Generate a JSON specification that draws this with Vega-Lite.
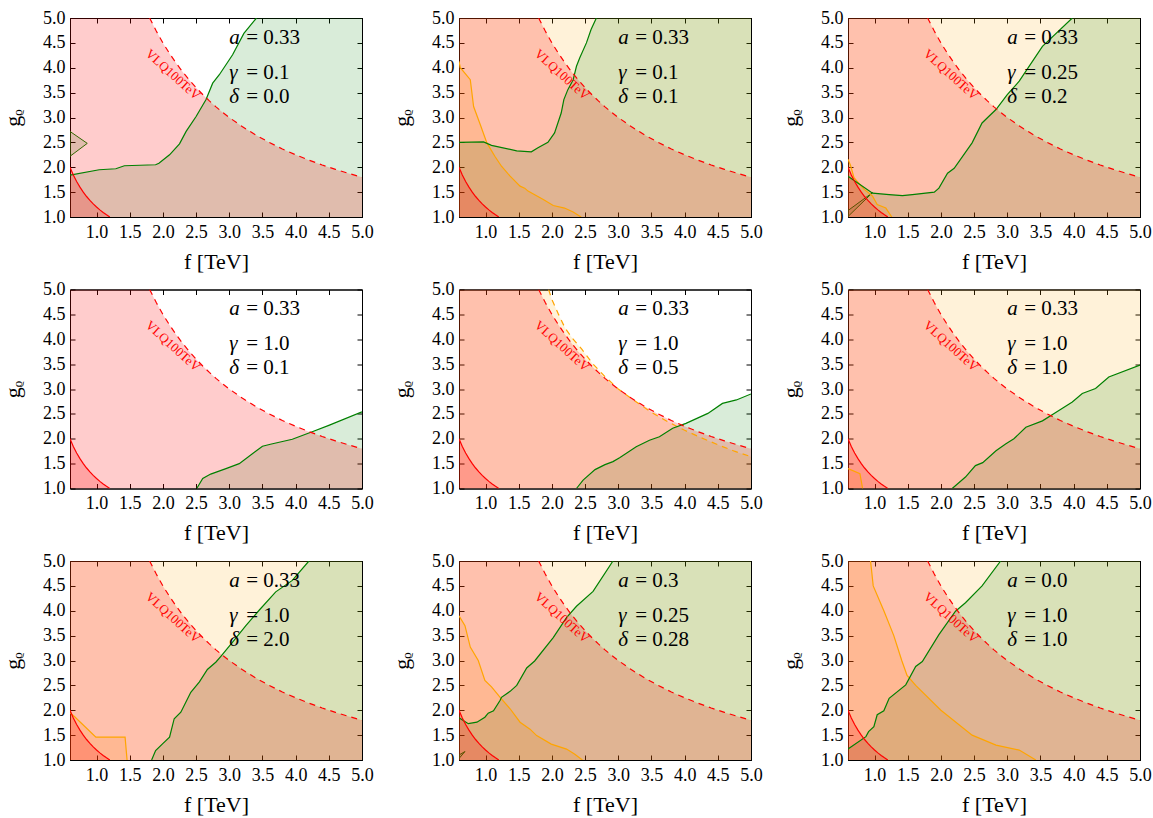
{
"$schema":"https://vega.github.io/schema/vega-lite/v6.json",
"padding":{"left":1,"top":8,"right":5,"bottom":5},
"columns":3,
"bounds":"flush",
"spacing":{"row":72.5,"column":97},
"datasets":{
"full":[{"p":2,"f":0.6,"g":5},{"p":2,"f":5,"g":5},{"p":3,"f":0.6,"g":5},{"p":3,"f":5,"g":5},{"p":6,"f":0.6,"g":5},{"p":6,"f":5,"g":5},{"p":7,"f":0.6,"g":5},{"p":7,"f":5,"g":5},{"p":8,"f":0.6,"g":5},{"p":8,"f":5,"g":5},{"p":9,"f":0.6,"g":5},{"p":9,"f":5,"g":5}],
"lbl":[{"t":"VLQ100TeV","f":2.15,"g":3.86}],
"vlq":[{"f":0.6,"g":5.0,"e":1},{"f":1.8,"g":5.0},{"f":1.9,"g":4.737},{"f":2.0,"g":4.5},{"f":2.1,"g":4.286},{"f":2.2,"g":4.091},{"f":2.3,"g":3.913},{"f":2.4,"g":3.75},{"f":2.5,"g":3.6},{"f":2.6,"g":3.462},{"f":2.7,"g":3.333},{"f":2.8,"g":3.214},{"f":2.9,"g":3.103},{"f":3.0,"g":3.0},{"f":3.2,"g":2.813},{"f":3.4,"g":2.647},{"f":3.6,"g":2.5},{"f":3.8,"g":2.368},{"f":4.0,"g":2.25},{"f":4.2,"g":2.143},{"f":4.4,"g":2.045},{"f":4.6,"g":1.957},{"f":4.8,"g":1.875},{"f":5.0,"g":1.8}],
"sr":[{"f":0.6,"g":2.0},{"f":0.65,"g":1.846},{"f":0.7,"g":1.714},{"f":0.75,"g":1.6},{"f":0.8,"g":1.5},{"f":0.85,"g":1.412},{"f":0.9,"g":1.333},{"f":0.95,"g":1.263},{"f":1.0,"g":1.2},{"f":1.05,"g":1.143},{"f":1.1,"g":1.091},{"f":1.15,"g":1.043},{"f":1.2,"g":1.0}],
"ann":[
{"p":1,"t":"a","v":"= 0.33","f":3,"g":4.6},{"p":1,"t":"γ","v":"= 0.1","f":3,"g":3.9},{"p":1,"t":"δ","v":"= 0.0","f":3,"g":3.42},
{"p":2,"t":"a","v":"= 0.33","f":3,"g":4.6},{"p":2,"t":"γ","v":"= 0.1","f":3,"g":3.9},{"p":2,"t":"δ","v":"= 0.1","f":3,"g":3.42},
{"p":3,"t":"a","v":"= 0.33","f":3,"g":4.6},{"p":3,"t":"γ","v":"= 0.25","f":3,"g":3.9},{"p":3,"t":"δ","v":"= 0.2","f":3,"g":3.42},
{"p":4,"t":"a","v":"= 0.33","f":3,"g":4.6},{"p":4,"t":"γ","v":"= 1.0","f":3,"g":3.9},{"p":4,"t":"δ","v":"= 0.1","f":3,"g":3.42},
{"p":5,"t":"a","v":"= 0.33","f":3,"g":4.6},{"p":5,"t":"γ","v":"= 1.0","f":3,"g":3.9},{"p":5,"t":"δ","v":"= 0.5","f":3,"g":3.42},
{"p":6,"t":"a","v":"= 0.33","f":3,"g":4.6},{"p":6,"t":"γ","v":"= 1.0","f":3,"g":3.9},{"p":6,"t":"δ","v":"= 1.0","f":3,"g":3.42},
{"p":7,"t":"a","v":"= 0.33","f":3,"g":4.6},{"p":7,"t":"γ","v":"= 1.0","f":3,"g":3.9},{"p":7,"t":"δ","v":"= 2.0","f":3,"g":3.42},
{"p":8,"t":"a","v":"= 0.3","f":3,"g":4.6},{"p":8,"t":"γ","v":"= 0.25","f":3,"g":3.9},{"p":8,"t":"δ","v":"= 0.28","f":3,"g":3.42},
{"p":9,"t":"a","v":"= 0.0","f":3,"g":4.6},{"p":9,"t":"γ","v":"= 1.0","f":3,"g":3.9},{"p":9,"t":"δ","v":"= 1.0","f":3,"g":3.42}],
"reg":[
{"p":1,"s":"g","f":0.6,"g":1.84},{"p":1,"s":"g","f":1.04,"g":1.95},{"p":1,"s":"g","f":1.29,"g":1.97},{"p":1,"s":"g","f":1.42,"g":2.03},{"p":1,"s":"g","f":1.89,"g":2.05},{"p":1,"s":"g","f":1.94,"g":2.08},{"p":1,"s":"g","f":2.1,"g":2.25},{"p":1,"s":"g","f":2.25,"g":2.47},{"p":1,"s":"g","f":2.35,"g":2.72},{"p":1,"s":"g","f":2.5,"g":3.02},{"p":1,"s":"g","f":2.65,"g":3.36},{"p":1,"s":"g","f":2.75,"g":3.69},{"p":1,"s":"g","f":2.85,"g":3.86},{"p":1,"s":"g","f":3.05,"g":4.26},{"p":1,"s":"g","f":3.22,"g":4.69},{"p":1,"s":"g","f":3.41,"g":5.0},{"p":1,"s":"gx","f":5.0,"g":5.0},
{"p":1,"s":"w","f":0.6,"g":2.72,"g2":2.22},{"p":1,"s":"w","f":0.86,"g":2.48,"g2":2.48},
{"p":2,"s":"g","f":0.6,"g":2.5},{"p":2,"s":"g","f":0.97,"g":2.51},{"p":2,"s":"g","f":1.09,"g":2.44},{"p":2,"s":"g","f":1.47,"g":2.33},{"p":2,"s":"g","f":1.69,"g":2.31},{"p":2,"s":"g","f":1.79,"g":2.39},{"p":2,"s":"g","f":1.94,"g":2.5},{"p":2,"s":"g","f":2.04,"g":2.69},{"p":2,"s":"g","f":2.14,"g":3.09},{"p":2,"s":"g","f":2.18,"g":3.36},{"p":2,"s":"g","f":2.24,"g":3.56},{"p":2,"s":"g","f":2.32,"g":3.76},{"p":2,"s":"g","f":2.37,"g":4.03},{"p":2,"s":"g","f":2.42,"g":4.2},{"p":2,"s":"g","f":2.52,"g":4.5},{"p":2,"s":"g","f":2.59,"g":4.77},{"p":2,"s":"g","f":2.67,"g":5.0},{"p":2,"s":"gx","f":5.0,"g":5.0},
{"p":2,"s":"o","f":0.6,"g":4.13},{"p":2,"s":"o","f":0.62,"g":4.0},{"p":2,"s":"o","f":0.77,"g":3.76},{"p":2,"s":"o","f":0.82,"g":3.22},{"p":2,"s":"o","f":0.92,"g":2.86},{"p":2,"s":"o","f":1.02,"g":2.49},{"p":2,"s":"o","f":1.14,"g":2.22},{"p":2,"s":"o","f":1.24,"g":2.02},{"p":2,"s":"o","f":1.37,"g":1.82},{"p":2,"s":"o","f":1.52,"g":1.62},{"p":2,"s":"o","f":1.59,"g":1.58},{"p":2,"s":"o","f":1.64,"g":1.52},{"p":2,"s":"o","f":1.87,"g":1.35},{"p":2,"s":"o","f":2.02,"g":1.23},{"p":2,"s":"o","f":2.19,"g":1.18},{"p":2,"s":"o","f":2.32,"g":1.1},{"p":2,"s":"o","f":2.44,"g":1.0},
{"p":3,"s":"g","f":0.6,"g":1.82},{"p":3,"s":"g","f":0.97,"g":1.48},{"p":3,"s":"g","f":1.22,"g":1.45},{"p":3,"s":"g","f":1.42,"g":1.43},{"p":3,"s":"g","f":1.57,"g":1.45},{"p":3,"s":"g","f":1.9,"g":1.5},{"p":3,"s":"g","f":1.97,"g":1.58},{"p":3,"s":"g","f":2.1,"g":1.88},{"p":3,"s":"g","f":2.2,"g":1.98},{"p":3,"s":"g","f":2.47,"g":2.49},{"p":3,"s":"g","f":2.62,"g":2.89},{"p":3,"s":"g","f":2.72,"g":3.02},{"p":3,"s":"g","f":2.83,"g":3.16},{"p":3,"s":"g","f":3.0,"g":3.46},{"p":3,"s":"g","f":3.18,"g":3.73},{"p":3,"s":"g","f":3.53,"g":4.43},{"p":3,"s":"g","f":3.98,"g":5.0},{"p":3,"s":"gx","f":5.0,"g":5.0},
{"p":3,"s":"w","f":0.6,"g":1.13,"g2":1.01},{"p":3,"s":"w","f":0.97,"g":1.49,"g2":1.49},
{"p":3,"s":"o","f":0.6,"g":2.16},{"p":3,"s":"o","f":0.64,"g":2.03},{"p":3,"s":"o","f":0.69,"g":1.79},{"p":3,"s":"o","f":0.84,"g":1.56},{"p":3,"s":"o","f":0.97,"g":1.42},{"p":3,"s":"o","f":1.04,"g":1.25},{"p":3,"s":"o","f":1.17,"g":1.18},{"p":3,"s":"o","f":1.26,"g":1.0},
{"p":4,"s":"g","f":2.51,"g":1.0},{"p":4,"s":"g","f":2.6,"g":1.2},{"p":4,"s":"g","f":2.72,"g":1.29},{"p":4,"s":"g","f":2.95,"g":1.4},{"p":4,"s":"g","f":3.15,"g":1.5},{"p":4,"s":"g","f":3.5,"g":1.85},{"p":4,"s":"g","f":3.62,"g":1.89},{"p":4,"s":"g","f":3.95,"g":1.99},{"p":4,"s":"g","f":4.25,"g":2.14},{"p":4,"s":"g","f":4.5,"g":2.27},{"p":4,"s":"g","f":5.0,"g":2.54},
{"p":5,"s":"g","f":2.37,"g":1.0},{"p":5,"s":"g","f":2.47,"g":1.17},{"p":5,"s":"g","f":2.65,"g":1.38},{"p":5,"s":"g","f":2.8,"g":1.48},{"p":5,"s":"g","f":2.92,"g":1.54},{"p":5,"s":"g","f":3.02,"g":1.62},{"p":5,"s":"g","f":3.27,"g":1.84},{"p":5,"s":"g","f":3.47,"g":1.97},{"p":5,"s":"g","f":3.62,"g":2.04},{"p":5,"s":"g","f":3.82,"g":2.21},{"p":5,"s":"g","f":4.02,"g":2.31},{"p":5,"s":"g","f":4.35,"g":2.51},{"p":5,"s":"g","f":4.57,"g":2.71},{"p":5,"s":"g","f":4.78,"g":2.78},{"p":5,"s":"g","f":5.0,"g":2.9},
{"p":5,"s":"ox","f":0.6,"g":5.0},{"p":5,"s":"od","f":1.95,"g":5.0},{"p":5,"s":"od","f":2.0,"g":4.8},{"p":5,"s":"od","f":2.1,"g":4.5},{"p":5,"s":"od","f":2.2,"g":4.22},{"p":5,"s":"od","f":2.32,"g":4.0},{"p":5,"s":"od","f":2.45,"g":3.8},{"p":5,"s":"od","f":2.62,"g":3.5},{"p":5,"s":"od","f":2.8,"g":3.25},{"p":5,"s":"od","f":3.0,"g":3.0},{"p":5,"s":"od","f":3.25,"g":2.76},{"p":5,"s":"od","f":3.5,"g":2.53},{"p":5,"s":"od","f":3.75,"g":2.34},{"p":5,"s":"od","f":4.0,"g":2.17},{"p":5,"s":"od","f":4.25,"g":2.02},{"p":5,"s":"od","f":4.5,"g":1.88},{"p":5,"s":"od","f":4.75,"g":1.75},{"p":5,"s":"od","f":5.0,"g":1.64},
{"p":6,"s":"g","f":2.17,"g":1.0},{"p":6,"s":"g","f":2.37,"g":1.23},{"p":6,"s":"g","f":2.52,"g":1.46},{"p":6,"s":"g","f":2.63,"g":1.52},{"p":6,"s":"g","f":2.83,"g":1.76},{"p":6,"s":"g","f":2.98,"g":1.9},{"p":6,"s":"g","f":3.1,"g":2.0},{"p":6,"s":"g","f":3.28,"g":2.23},{"p":6,"s":"g","f":3.53,"g":2.36},{"p":6,"s":"g","f":3.73,"g":2.53},{"p":6,"s":"g","f":3.98,"g":2.74},{"p":6,"s":"g","f":4.13,"g":2.91},{"p":6,"s":"g","f":4.33,"g":3.01},{"p":6,"s":"g","f":4.53,"g":3.24},{"p":6,"s":"g","f":5.0,"g":3.48},
{"p":6,"s":"o","f":0.6,"g":1.4},{"p":6,"s":"o","f":0.78,"g":1.3},{"p":6,"s":"o","f":0.82,"g":1.0},
{"p":7,"s":"g","f":1.83,"g":1.0},{"p":7,"s":"g","f":1.89,"g":1.19},{"p":7,"s":"g","f":1.99,"g":1.32},{"p":7,"s":"g","f":2.1,"g":1.46},{"p":7,"s":"g","f":2.17,"g":1.83},{"p":7,"s":"g","f":2.27,"g":1.96},{"p":7,"s":"g","f":2.42,"g":2.36},{"p":7,"s":"g","f":2.55,"g":2.57},{"p":7,"s":"g","f":2.67,"g":2.82},{"p":7,"s":"g","f":2.8,"g":2.97},{"p":7,"s":"g","f":2.87,"g":3.08},{"p":7,"s":"g","f":3.05,"g":3.37},{"p":7,"s":"g","f":3.25,"g":3.7},{"p":7,"s":"g","f":3.45,"g":4.01},{"p":7,"s":"g","f":3.7,"g":4.38},{"p":7,"s":"g","f":3.95,"g":4.61},{"p":7,"s":"g","f":4.2,"g":5.0},{"p":7,"s":"gx","f":5.0,"g":5.0},
{"p":7,"s":"o","f":0.6,"g":1.95},{"p":7,"s":"o","f":0.67,"g":1.87},{"p":7,"s":"o","f":0.99,"g":1.46},{"p":7,"s":"o","f":1.43,"g":1.46},{"p":7,"s":"o","f":1.46,"g":1.0},
{"p":8,"s":"g","f":0.6,"g":1.85},{"p":8,"s":"g","f":0.74,"g":1.73},{"p":8,"s":"g","f":0.87,"g":1.76},{"p":8,"s":"g","f":0.99,"g":1.86},{"p":8,"s":"g","f":1.04,"g":1.94},{"p":8,"s":"g","f":1.12,"g":1.99},{"p":8,"s":"g","f":1.22,"g":2.2},{"p":8,"s":"g","f":1.24,"g":2.26},{"p":8,"s":"g","f":1.37,"g":2.38},{"p":8,"s":"g","f":1.47,"g":2.5},{"p":8,"s":"g","f":1.62,"g":2.85},{"p":8,"s":"g","f":1.74,"g":2.99},{"p":8,"s":"g","f":2.02,"g":3.46},{"p":8,"s":"g","f":2.22,"g":3.86},{"p":8,"s":"g","f":2.37,"g":4.09},{"p":8,"s":"g","f":2.62,"g":4.39},{"p":8,"s":"g","f":2.92,"g":5.0},{"p":8,"s":"gx","f":5.0,"g":5.0},
{"p":8,"s":"w","f":0.6,"g":1.1,"g2":1.03},{"p":8,"s":"w","f":0.69,"g":1.17,"g2":1.17},
{"p":8,"s":"o","f":0.6,"g":3.9},{"p":8,"s":"o","f":0.69,"g":3.7},{"p":8,"s":"o","f":0.77,"g":3.27},{"p":8,"s":"o","f":0.89,"g":3.0},{"p":8,"s":"o","f":0.99,"g":2.6},{"p":8,"s":"o","f":1.09,"g":2.47},{"p":8,"s":"o","f":1.22,"g":2.26},{"p":8,"s":"o","f":1.37,"g":2.03},{"p":8,"s":"o","f":1.52,"g":1.76},{"p":8,"s":"o","f":1.67,"g":1.62},{"p":8,"s":"o","f":1.77,"g":1.49},{"p":8,"s":"o","f":1.99,"g":1.32},{"p":8,"s":"o","f":2.22,"g":1.22},{"p":8,"s":"o","f":2.34,"g":1.12},{"p":8,"s":"o","f":2.46,"g":1.0},
{"p":9,"s":"g","f":0.6,"g":1.22},{"p":9,"s":"g","f":0.87,"g":1.47},{"p":9,"s":"g","f":0.91,"g":1.57},{"p":9,"s":"g","f":0.99,"g":1.67},{"p":9,"s":"g","f":1.04,"g":1.91},{"p":9,"s":"g","f":1.14,"g":1.99},{"p":9,"s":"g","f":1.22,"g":2.24},{"p":9,"s":"g","f":1.47,"g":2.51},{"p":9,"s":"g","f":1.62,"g":2.88},{"p":9,"s":"g","f":1.72,"g":2.98},{"p":9,"s":"g","f":1.97,"g":3.52},{"p":9,"s":"g","f":2.22,"g":3.99},{"p":9,"s":"g","f":2.37,"g":4.16},{"p":9,"s":"g","f":2.62,"g":4.5},{"p":9,"s":"g","f":2.9,"g":5.0},{"p":9,"s":"gx","f":5.0,"g":5.0},
{"p":9,"s":"ox","f":0.6,"g":5.0},{"p":9,"s":"o","f":0.94,"g":5.0},{"p":9,"s":"o","f":0.98,"g":4.5},{"p":9,"s":"o","f":1.14,"g":4.0},{"p":9,"s":"o","f":1.29,"g":3.5},{"p":9,"s":"o","f":1.41,"g":3.0},{"p":9,"s":"o","f":1.49,"g":2.7},{"p":9,"s":"o","f":1.62,"g":2.5},{"p":9,"s":"o","f":2.0,"g":2.0},{"p":9,"s":"o","f":2.47,"g":1.5},{"p":9,"s":"o","f":2.83,"g":1.3},{"p":9,"s":"o","f":3.18,"g":1.2},{"p":9,"s":"o","f":3.43,"g":1.0}
]},
"concat":[
{"width":292,"height":199,"encoding":{"x":{"field":"f","type":"quantitative","scale":{"domain":[0.6,5],"nice":false,"zero":false},"axis":null},"y":{"field":"g","type":"quantitative","scale":{"domain":[1,5],"nice":false,"zero":false},"axis":null}},"resolve":{"axis":{"x":"independent","y":"independent"}},"layer":[
{"data":{"name":"full"},"transform":[{"filter":"datum.p==1"}],"mark":{"type":"area","fill":"orange","fillOpacity":0.15},"encoding":{"y2":{"datum":1}}},
{"data":{"name":"reg"},"transform":[{"filter":"datum.p==1 && (datum.s=='o'||datum.s=='od'||datum.s=='ox')"}],"mark":{"type":"area","fill":"orange","fillOpacity":0.15,"clip":true},"encoding":{"y2":{"datum":1}}},
{"data":{"name":"reg"},"transform":[{"filter":"datum.p==1 && (datum.s=='g'||datum.s=='gx')"}],"mark":{"type":"area","fill":"green","fillOpacity":0.15,"clip":true},"encoding":{"y2":{"datum":1}}},
{"data":{"name":"reg"},"transform":[{"filter":"datum.p==1 && datum.s=='w'"}],"mark":{"type":"area","fill":"green","fillOpacity":0.15,"stroke":"green","strokeWidth":1,"clip":true},"encoding":{"y2":{"field":"g2"}}},
{"data":{"name":"vlq"},"mark":{"type":"area","fill":"red","fillOpacity":0.2,"clip":true},"encoding":{"x":{"field":"f","type":"quantitative","scale":{"domain":[0.6,5],"nice":false,"zero":false},"axis":{"orient":"bottom","values":[1,1.5,2,2.5,3,3.5,4,4.5,5],"format":".1f","title":"f [TeV]"}},"y":{"field":"g","type":"quantitative","scale":{"domain":[1,5],"nice":false,"zero":false},"axis":{"orient":"left","values":[1,1.5,2,2.5,3,3.5,4,4.5,5],"format":".1f","title":"gᵨ"}},"y2":{"datum":1}}},
{"data":{"name":"sr"},"mark":{"type":"area","fill":"red","fillOpacity":0.2,"clip":true},"encoding":{"y2":{"datum":1}}},
{"data":{"name":"reg"},"transform":[{"filter":"datum.p==1 && datum.s=='o'"}],"mark":{"type":"line","stroke":"orange","strokeWidth":1.2,"clip":true},"encoding":{}},
{"data":{"name":"reg"},"transform":[{"filter":"datum.p==1 && datum.s=='od'"}],"mark":{"type":"line","stroke":"orange","strokeWidth":1.2,"strokeDash":[6,5],"clip":true},"encoding":{}},
{"data":{"name":"reg"},"transform":[{"filter":"datum.p==1 && datum.s=='g'"}],"mark":{"type":"line","stroke":"green","strokeWidth":1.2,"clip":true},"encoding":{}},
{"data":{"name":"sr"},"mark":{"type":"line","stroke":"red","strokeWidth":1.2,"clip":true},"encoding":{}},
{"data":{"name":"vlq"},"transform":[{"filter":"!datum.e"}],"mark":{"type":"line","stroke":"red","strokeWidth":1.2,"strokeDash":[6,5],"clip":true},"encoding":{"x":{"field":"f","type":"quantitative","scale":{"domain":[0.6,5],"nice":false,"zero":false},"axis":{"orient":"top","values":[1,1.5,2,2.5,3,3.5,4,4.5,5],"labels":false,"title":null}},"y":{"field":"g","type":"quantitative","scale":{"domain":[1,5],"nice":false,"zero":false},"axis":{"orient":"right","values":[1,1.5,2,2.5,3,3.5,4,4.5,5],"labels":false,"title":null}}}},
{"data":{"name":"lbl"},"mark":{"type":"text","fill":"red","font":"Liberation Serif","fontSize":13,"angle":42,"align":"center","baseline":"middle"},"encoding":{"text":{"field":"t"}}},
{"data":{"name":"ann"},"transform":[{"filter":"datum.p==1"}],"mark":{"type":"text","font":"Liberation Serif","fontSize":21,"fontStyle":"italic","align":"left","baseline":"middle","fill":"black"},"encoding":{"text":{"field":"t"}}},
{"data":{"name":"ann"},"transform":[{"filter":"datum.p==1"}],"mark":{"type":"text","font":"Liberation Serif","fontSize":21,"align":"left","baseline":"middle","fill":"black","dx":17},"encoding":{"text":{"field":"v"}}}
]},
{"width":292,"height":199,"encoding":{"x":{"field":"f","type":"quantitative","scale":{"domain":[0.6,5],"nice":false,"zero":false},"axis":null},"y":{"field":"g","type":"quantitative","scale":{"domain":[1,5],"nice":false,"zero":false},"axis":null}},"resolve":{"axis":{"x":"independent","y":"independent"}},"layer":[
{"data":{"name":"full"},"transform":[{"filter":"datum.p==2"}],"mark":{"type":"area","fill":"orange","fillOpacity":0.15},"encoding":{"y2":{"datum":1}}},
{"data":{"name":"reg"},"transform":[{"filter":"datum.p==2 && (datum.s=='o'||datum.s=='od'||datum.s=='ox')"}],"mark":{"type":"area","fill":"orange","fillOpacity":0.15,"clip":true},"encoding":{"y2":{"datum":1}}},
{"data":{"name":"reg"},"transform":[{"filter":"datum.p==2 && (datum.s=='g'||datum.s=='gx')"}],"mark":{"type":"area","fill":"green","fillOpacity":0.15,"clip":true},"encoding":{"y2":{"datum":1}}},
{"data":{"name":"reg"},"transform":[{"filter":"datum.p==2 && datum.s=='w'"}],"mark":{"type":"area","fill":"green","fillOpacity":0.15,"stroke":"green","strokeWidth":1,"clip":true},"encoding":{"y2":{"field":"g2"}}},
{"data":{"name":"vlq"},"mark":{"type":"area","fill":"red","fillOpacity":0.2,"clip":true},"encoding":{"x":{"field":"f","type":"quantitative","scale":{"domain":[0.6,5],"nice":false,"zero":false},"axis":{"orient":"bottom","values":[1,1.5,2,2.5,3,3.5,4,4.5,5],"format":".1f","title":"f [TeV]"}},"y":{"field":"g","type":"quantitative","scale":{"domain":[1,5],"nice":false,"zero":false},"axis":{"orient":"left","values":[1,1.5,2,2.5,3,3.5,4,4.5,5],"format":".1f","title":"gᵨ"}},"y2":{"datum":1}}},
{"data":{"name":"sr"},"mark":{"type":"area","fill":"red","fillOpacity":0.2,"clip":true},"encoding":{"y2":{"datum":1}}},
{"data":{"name":"reg"},"transform":[{"filter":"datum.p==2 && datum.s=='o'"}],"mark":{"type":"line","stroke":"orange","strokeWidth":1.2,"clip":true},"encoding":{}},
{"data":{"name":"reg"},"transform":[{"filter":"datum.p==2 && datum.s=='od'"}],"mark":{"type":"line","stroke":"orange","strokeWidth":1.2,"strokeDash":[6,5],"clip":true},"encoding":{}},
{"data":{"name":"reg"},"transform":[{"filter":"datum.p==2 && datum.s=='g'"}],"mark":{"type":"line","stroke":"green","strokeWidth":1.2,"clip":true},"encoding":{}},
{"data":{"name":"sr"},"mark":{"type":"line","stroke":"red","strokeWidth":1.2,"clip":true},"encoding":{}},
{"data":{"name":"vlq"},"transform":[{"filter":"!datum.e"}],"mark":{"type":"line","stroke":"red","strokeWidth":1.2,"strokeDash":[6,5],"clip":true},"encoding":{"x":{"field":"f","type":"quantitative","scale":{"domain":[0.6,5],"nice":false,"zero":false},"axis":{"orient":"top","values":[1,1.5,2,2.5,3,3.5,4,4.5,5],"labels":false,"title":null}},"y":{"field":"g","type":"quantitative","scale":{"domain":[1,5],"nice":false,"zero":false},"axis":{"orient":"right","values":[1,1.5,2,2.5,3,3.5,4,4.5,5],"labels":false,"title":null}}}},
{"data":{"name":"lbl"},"mark":{"type":"text","fill":"red","font":"Liberation Serif","fontSize":13,"angle":42,"align":"center","baseline":"middle"},"encoding":{"text":{"field":"t"}}},
{"data":{"name":"ann"},"transform":[{"filter":"datum.p==2"}],"mark":{"type":"text","font":"Liberation Serif","fontSize":21,"fontStyle":"italic","align":"left","baseline":"middle","fill":"black"},"encoding":{"text":{"field":"t"}}},
{"data":{"name":"ann"},"transform":[{"filter":"datum.p==2"}],"mark":{"type":"text","font":"Liberation Serif","fontSize":21,"align":"left","baseline":"middle","fill":"black","dx":17},"encoding":{"text":{"field":"v"}}}
]},
{"width":292,"height":199,"encoding":{"x":{"field":"f","type":"quantitative","scale":{"domain":[0.6,5],"nice":false,"zero":false},"axis":null},"y":{"field":"g","type":"quantitative","scale":{"domain":[1,5],"nice":false,"zero":false},"axis":null}},"resolve":{"axis":{"x":"independent","y":"independent"}},"layer":[
{"data":{"name":"full"},"transform":[{"filter":"datum.p==3"}],"mark":{"type":"area","fill":"orange","fillOpacity":0.15},"encoding":{"y2":{"datum":1}}},
{"data":{"name":"reg"},"transform":[{"filter":"datum.p==3 && (datum.s=='o'||datum.s=='od'||datum.s=='ox')"}],"mark":{"type":"area","fill":"orange","fillOpacity":0.15,"clip":true},"encoding":{"y2":{"datum":1}}},
{"data":{"name":"reg"},"transform":[{"filter":"datum.p==3 && (datum.s=='g'||datum.s=='gx')"}],"mark":{"type":"area","fill":"green","fillOpacity":0.15,"clip":true},"encoding":{"y2":{"datum":1}}},
{"data":{"name":"reg"},"transform":[{"filter":"datum.p==3 && datum.s=='w'"}],"mark":{"type":"area","fill":"green","fillOpacity":0.15,"stroke":"green","strokeWidth":1,"clip":true},"encoding":{"y2":{"field":"g2"}}},
{"data":{"name":"vlq"},"mark":{"type":"area","fill":"red","fillOpacity":0.2,"clip":true},"encoding":{"x":{"field":"f","type":"quantitative","scale":{"domain":[0.6,5],"nice":false,"zero":false},"axis":{"orient":"bottom","values":[1,1.5,2,2.5,3,3.5,4,4.5,5],"format":".1f","title":"f [TeV]"}},"y":{"field":"g","type":"quantitative","scale":{"domain":[1,5],"nice":false,"zero":false},"axis":{"orient":"left","values":[1,1.5,2,2.5,3,3.5,4,4.5,5],"format":".1f","title":"gᵨ"}},"y2":{"datum":1}}},
{"data":{"name":"sr"},"mark":{"type":"area","fill":"red","fillOpacity":0.2,"clip":true},"encoding":{"y2":{"datum":1}}},
{"data":{"name":"reg"},"transform":[{"filter":"datum.p==3 && datum.s=='o'"}],"mark":{"type":"line","stroke":"orange","strokeWidth":1.2,"clip":true},"encoding":{}},
{"data":{"name":"reg"},"transform":[{"filter":"datum.p==3 && datum.s=='od'"}],"mark":{"type":"line","stroke":"orange","strokeWidth":1.2,"strokeDash":[6,5],"clip":true},"encoding":{}},
{"data":{"name":"reg"},"transform":[{"filter":"datum.p==3 && datum.s=='g'"}],"mark":{"type":"line","stroke":"green","strokeWidth":1.2,"clip":true},"encoding":{}},
{"data":{"name":"sr"},"mark":{"type":"line","stroke":"red","strokeWidth":1.2,"clip":true},"encoding":{}},
{"data":{"name":"vlq"},"transform":[{"filter":"!datum.e"}],"mark":{"type":"line","stroke":"red","strokeWidth":1.2,"strokeDash":[6,5],"clip":true},"encoding":{"x":{"field":"f","type":"quantitative","scale":{"domain":[0.6,5],"nice":false,"zero":false},"axis":{"orient":"top","values":[1,1.5,2,2.5,3,3.5,4,4.5,5],"labels":false,"title":null}},"y":{"field":"g","type":"quantitative","scale":{"domain":[1,5],"nice":false,"zero":false},"axis":{"orient":"right","values":[1,1.5,2,2.5,3,3.5,4,4.5,5],"labels":false,"title":null}}}},
{"data":{"name":"lbl"},"mark":{"type":"text","fill":"red","font":"Liberation Serif","fontSize":13,"angle":42,"align":"center","baseline":"middle"},"encoding":{"text":{"field":"t"}}},
{"data":{"name":"ann"},"transform":[{"filter":"datum.p==3"}],"mark":{"type":"text","font":"Liberation Serif","fontSize":21,"fontStyle":"italic","align":"left","baseline":"middle","fill":"black"},"encoding":{"text":{"field":"t"}}},
{"data":{"name":"ann"},"transform":[{"filter":"datum.p==3"}],"mark":{"type":"text","font":"Liberation Serif","fontSize":21,"align":"left","baseline":"middle","fill":"black","dx":17},"encoding":{"text":{"field":"v"}}}
]},
{"width":292,"height":199,"encoding":{"x":{"field":"f","type":"quantitative","scale":{"domain":[0.6,5],"nice":false,"zero":false},"axis":null},"y":{"field":"g","type":"quantitative","scale":{"domain":[1,5],"nice":false,"zero":false},"axis":null}},"resolve":{"axis":{"x":"independent","y":"independent"}},"layer":[
{"data":{"name":"full"},"transform":[{"filter":"datum.p==4"}],"mark":{"type":"area","fill":"orange","fillOpacity":0.15},"encoding":{"y2":{"datum":1}}},
{"data":{"name":"reg"},"transform":[{"filter":"datum.p==4 && (datum.s=='o'||datum.s=='od'||datum.s=='ox')"}],"mark":{"type":"area","fill":"orange","fillOpacity":0.15,"clip":true},"encoding":{"y2":{"datum":1}}},
{"data":{"name":"reg"},"transform":[{"filter":"datum.p==4 && (datum.s=='g'||datum.s=='gx')"}],"mark":{"type":"area","fill":"green","fillOpacity":0.15,"clip":true},"encoding":{"y2":{"datum":1}}},
{"data":{"name":"reg"},"transform":[{"filter":"datum.p==4 && datum.s=='w'"}],"mark":{"type":"area","fill":"green","fillOpacity":0.15,"stroke":"green","strokeWidth":1,"clip":true},"encoding":{"y2":{"field":"g2"}}},
{"data":{"name":"vlq"},"mark":{"type":"area","fill":"red","fillOpacity":0.2,"clip":true},"encoding":{"x":{"field":"f","type":"quantitative","scale":{"domain":[0.6,5],"nice":false,"zero":false},"axis":{"orient":"bottom","values":[1,1.5,2,2.5,3,3.5,4,4.5,5],"format":".1f","title":"f [TeV]"}},"y":{"field":"g","type":"quantitative","scale":{"domain":[1,5],"nice":false,"zero":false},"axis":{"orient":"left","values":[1,1.5,2,2.5,3,3.5,4,4.5,5],"format":".1f","title":"gᵨ"}},"y2":{"datum":1}}},
{"data":{"name":"sr"},"mark":{"type":"area","fill":"red","fillOpacity":0.2,"clip":true},"encoding":{"y2":{"datum":1}}},
{"data":{"name":"reg"},"transform":[{"filter":"datum.p==4 && datum.s=='o'"}],"mark":{"type":"line","stroke":"orange","strokeWidth":1.2,"clip":true},"encoding":{}},
{"data":{"name":"reg"},"transform":[{"filter":"datum.p==4 && datum.s=='od'"}],"mark":{"type":"line","stroke":"orange","strokeWidth":1.2,"strokeDash":[6,5],"clip":true},"encoding":{}},
{"data":{"name":"reg"},"transform":[{"filter":"datum.p==4 && datum.s=='g'"}],"mark":{"type":"line","stroke":"green","strokeWidth":1.2,"clip":true},"encoding":{}},
{"data":{"name":"sr"},"mark":{"type":"line","stroke":"red","strokeWidth":1.2,"clip":true},"encoding":{}},
{"data":{"name":"vlq"},"transform":[{"filter":"!datum.e"}],"mark":{"type":"line","stroke":"red","strokeWidth":1.2,"strokeDash":[6,5],"clip":true},"encoding":{"x":{"field":"f","type":"quantitative","scale":{"domain":[0.6,5],"nice":false,"zero":false},"axis":{"orient":"top","values":[1,1.5,2,2.5,3,3.5,4,4.5,5],"labels":false,"title":null}},"y":{"field":"g","type":"quantitative","scale":{"domain":[1,5],"nice":false,"zero":false},"axis":{"orient":"right","values":[1,1.5,2,2.5,3,3.5,4,4.5,5],"labels":false,"title":null}}}},
{"data":{"name":"lbl"},"mark":{"type":"text","fill":"red","font":"Liberation Serif","fontSize":13,"angle":42,"align":"center","baseline":"middle"},"encoding":{"text":{"field":"t"}}},
{"data":{"name":"ann"},"transform":[{"filter":"datum.p==4"}],"mark":{"type":"text","font":"Liberation Serif","fontSize":21,"fontStyle":"italic","align":"left","baseline":"middle","fill":"black"},"encoding":{"text":{"field":"t"}}},
{"data":{"name":"ann"},"transform":[{"filter":"datum.p==4"}],"mark":{"type":"text","font":"Liberation Serif","fontSize":21,"align":"left","baseline":"middle","fill":"black","dx":17},"encoding":{"text":{"field":"v"}}}
]},
{"width":292,"height":199,"encoding":{"x":{"field":"f","type":"quantitative","scale":{"domain":[0.6,5],"nice":false,"zero":false},"axis":null},"y":{"field":"g","type":"quantitative","scale":{"domain":[1,5],"nice":false,"zero":false},"axis":null}},"resolve":{"axis":{"x":"independent","y":"independent"}},"layer":[
{"data":{"name":"full"},"transform":[{"filter":"datum.p==5"}],"mark":{"type":"area","fill":"orange","fillOpacity":0.15},"encoding":{"y2":{"datum":1}}},
{"data":{"name":"reg"},"transform":[{"filter":"datum.p==5 && (datum.s=='o'||datum.s=='od'||datum.s=='ox')"}],"mark":{"type":"area","fill":"orange","fillOpacity":0.15,"clip":true},"encoding":{"y2":{"datum":1}}},
{"data":{"name":"reg"},"transform":[{"filter":"datum.p==5 && (datum.s=='g'||datum.s=='gx')"}],"mark":{"type":"area","fill":"green","fillOpacity":0.15,"clip":true},"encoding":{"y2":{"datum":1}}},
{"data":{"name":"reg"},"transform":[{"filter":"datum.p==5 && datum.s=='w'"}],"mark":{"type":"area","fill":"green","fillOpacity":0.15,"stroke":"green","strokeWidth":1,"clip":true},"encoding":{"y2":{"field":"g2"}}},
{"data":{"name":"vlq"},"mark":{"type":"area","fill":"red","fillOpacity":0.2,"clip":true},"encoding":{"x":{"field":"f","type":"quantitative","scale":{"domain":[0.6,5],"nice":false,"zero":false},"axis":{"orient":"bottom","values":[1,1.5,2,2.5,3,3.5,4,4.5,5],"format":".1f","title":"f [TeV]"}},"y":{"field":"g","type":"quantitative","scale":{"domain":[1,5],"nice":false,"zero":false},"axis":{"orient":"left","values":[1,1.5,2,2.5,3,3.5,4,4.5,5],"format":".1f","title":"gᵨ"}},"y2":{"datum":1}}},
{"data":{"name":"sr"},"mark":{"type":"area","fill":"red","fillOpacity":0.2,"clip":true},"encoding":{"y2":{"datum":1}}},
{"data":{"name":"reg"},"transform":[{"filter":"datum.p==5 && datum.s=='o'"}],"mark":{"type":"line","stroke":"orange","strokeWidth":1.2,"clip":true},"encoding":{}},
{"data":{"name":"reg"},"transform":[{"filter":"datum.p==5 && datum.s=='od'"}],"mark":{"type":"line","stroke":"orange","strokeWidth":1.2,"strokeDash":[6,5],"clip":true},"encoding":{}},
{"data":{"name":"reg"},"transform":[{"filter":"datum.p==5 && datum.s=='g'"}],"mark":{"type":"line","stroke":"green","strokeWidth":1.2,"clip":true},"encoding":{}},
{"data":{"name":"sr"},"mark":{"type":"line","stroke":"red","strokeWidth":1.2,"clip":true},"encoding":{}},
{"data":{"name":"vlq"},"transform":[{"filter":"!datum.e"}],"mark":{"type":"line","stroke":"red","strokeWidth":1.2,"strokeDash":[6,5],"clip":true},"encoding":{"x":{"field":"f","type":"quantitative","scale":{"domain":[0.6,5],"nice":false,"zero":false},"axis":{"orient":"top","values":[1,1.5,2,2.5,3,3.5,4,4.5,5],"labels":false,"title":null}},"y":{"field":"g","type":"quantitative","scale":{"domain":[1,5],"nice":false,"zero":false},"axis":{"orient":"right","values":[1,1.5,2,2.5,3,3.5,4,4.5,5],"labels":false,"title":null}}}},
{"data":{"name":"lbl"},"mark":{"type":"text","fill":"red","font":"Liberation Serif","fontSize":13,"angle":42,"align":"center","baseline":"middle"},"encoding":{"text":{"field":"t"}}},
{"data":{"name":"ann"},"transform":[{"filter":"datum.p==5"}],"mark":{"type":"text","font":"Liberation Serif","fontSize":21,"fontStyle":"italic","align":"left","baseline":"middle","fill":"black"},"encoding":{"text":{"field":"t"}}},
{"data":{"name":"ann"},"transform":[{"filter":"datum.p==5"}],"mark":{"type":"text","font":"Liberation Serif","fontSize":21,"align":"left","baseline":"middle","fill":"black","dx":17},"encoding":{"text":{"field":"v"}}}
]},
{"width":292,"height":199,"encoding":{"x":{"field":"f","type":"quantitative","scale":{"domain":[0.6,5],"nice":false,"zero":false},"axis":null},"y":{"field":"g","type":"quantitative","scale":{"domain":[1,5],"nice":false,"zero":false},"axis":null}},"resolve":{"axis":{"x":"independent","y":"independent"}},"layer":[
{"data":{"name":"full"},"transform":[{"filter":"datum.p==6"}],"mark":{"type":"area","fill":"orange","fillOpacity":0.15},"encoding":{"y2":{"datum":1}}},
{"data":{"name":"reg"},"transform":[{"filter":"datum.p==6 && (datum.s=='o'||datum.s=='od'||datum.s=='ox')"}],"mark":{"type":"area","fill":"orange","fillOpacity":0.15,"clip":true},"encoding":{"y2":{"datum":1}}},
{"data":{"name":"reg"},"transform":[{"filter":"datum.p==6 && (datum.s=='g'||datum.s=='gx')"}],"mark":{"type":"area","fill":"green","fillOpacity":0.15,"clip":true},"encoding":{"y2":{"datum":1}}},
{"data":{"name":"reg"},"transform":[{"filter":"datum.p==6 && datum.s=='w'"}],"mark":{"type":"area","fill":"green","fillOpacity":0.15,"stroke":"green","strokeWidth":1,"clip":true},"encoding":{"y2":{"field":"g2"}}},
{"data":{"name":"vlq"},"mark":{"type":"area","fill":"red","fillOpacity":0.2,"clip":true},"encoding":{"x":{"field":"f","type":"quantitative","scale":{"domain":[0.6,5],"nice":false,"zero":false},"axis":{"orient":"bottom","values":[1,1.5,2,2.5,3,3.5,4,4.5,5],"format":".1f","title":"f [TeV]"}},"y":{"field":"g","type":"quantitative","scale":{"domain":[1,5],"nice":false,"zero":false},"axis":{"orient":"left","values":[1,1.5,2,2.5,3,3.5,4,4.5,5],"format":".1f","title":"gᵨ"}},"y2":{"datum":1}}},
{"data":{"name":"sr"},"mark":{"type":"area","fill":"red","fillOpacity":0.2,"clip":true},"encoding":{"y2":{"datum":1}}},
{"data":{"name":"reg"},"transform":[{"filter":"datum.p==6 && datum.s=='o'"}],"mark":{"type":"line","stroke":"orange","strokeWidth":1.2,"clip":true},"encoding":{}},
{"data":{"name":"reg"},"transform":[{"filter":"datum.p==6 && datum.s=='od'"}],"mark":{"type":"line","stroke":"orange","strokeWidth":1.2,"strokeDash":[6,5],"clip":true},"encoding":{}},
{"data":{"name":"reg"},"transform":[{"filter":"datum.p==6 && datum.s=='g'"}],"mark":{"type":"line","stroke":"green","strokeWidth":1.2,"clip":true},"encoding":{}},
{"data":{"name":"sr"},"mark":{"type":"line","stroke":"red","strokeWidth":1.2,"clip":true},"encoding":{}},
{"data":{"name":"vlq"},"transform":[{"filter":"!datum.e"}],"mark":{"type":"line","stroke":"red","strokeWidth":1.2,"strokeDash":[6,5],"clip":true},"encoding":{"x":{"field":"f","type":"quantitative","scale":{"domain":[0.6,5],"nice":false,"zero":false},"axis":{"orient":"top","values":[1,1.5,2,2.5,3,3.5,4,4.5,5],"labels":false,"title":null}},"y":{"field":"g","type":"quantitative","scale":{"domain":[1,5],"nice":false,"zero":false},"axis":{"orient":"right","values":[1,1.5,2,2.5,3,3.5,4,4.5,5],"labels":false,"title":null}}}},
{"data":{"name":"lbl"},"mark":{"type":"text","fill":"red","font":"Liberation Serif","fontSize":13,"angle":42,"align":"center","baseline":"middle"},"encoding":{"text":{"field":"t"}}},
{"data":{"name":"ann"},"transform":[{"filter":"datum.p==6"}],"mark":{"type":"text","font":"Liberation Serif","fontSize":21,"fontStyle":"italic","align":"left","baseline":"middle","fill":"black"},"encoding":{"text":{"field":"t"}}},
{"data":{"name":"ann"},"transform":[{"filter":"datum.p==6"}],"mark":{"type":"text","font":"Liberation Serif","fontSize":21,"align":"left","baseline":"middle","fill":"black","dx":17},"encoding":{"text":{"field":"v"}}}
]},
{"width":292,"height":199,"encoding":{"x":{"field":"f","type":"quantitative","scale":{"domain":[0.6,5],"nice":false,"zero":false},"axis":null},"y":{"field":"g","type":"quantitative","scale":{"domain":[1,5],"nice":false,"zero":false},"axis":null}},"resolve":{"axis":{"x":"independent","y":"independent"}},"layer":[
{"data":{"name":"full"},"transform":[{"filter":"datum.p==7"}],"mark":{"type":"area","fill":"orange","fillOpacity":0.15},"encoding":{"y2":{"datum":1}}},
{"data":{"name":"reg"},"transform":[{"filter":"datum.p==7 && (datum.s=='o'||datum.s=='od'||datum.s=='ox')"}],"mark":{"type":"area","fill":"orange","fillOpacity":0.15,"clip":true},"encoding":{"y2":{"datum":1}}},
{"data":{"name":"reg"},"transform":[{"filter":"datum.p==7 && (datum.s=='g'||datum.s=='gx')"}],"mark":{"type":"area","fill":"green","fillOpacity":0.15,"clip":true},"encoding":{"y2":{"datum":1}}},
{"data":{"name":"reg"},"transform":[{"filter":"datum.p==7 && datum.s=='w'"}],"mark":{"type":"area","fill":"green","fillOpacity":0.15,"stroke":"green","strokeWidth":1,"clip":true},"encoding":{"y2":{"field":"g2"}}},
{"data":{"name":"vlq"},"mark":{"type":"area","fill":"red","fillOpacity":0.2,"clip":true},"encoding":{"x":{"field":"f","type":"quantitative","scale":{"domain":[0.6,5],"nice":false,"zero":false},"axis":{"orient":"bottom","values":[1,1.5,2,2.5,3,3.5,4,4.5,5],"format":".1f","title":"f [TeV]"}},"y":{"field":"g","type":"quantitative","scale":{"domain":[1,5],"nice":false,"zero":false},"axis":{"orient":"left","values":[1,1.5,2,2.5,3,3.5,4,4.5,5],"format":".1f","title":"gᵨ"}},"y2":{"datum":1}}},
{"data":{"name":"sr"},"mark":{"type":"area","fill":"red","fillOpacity":0.2,"clip":true},"encoding":{"y2":{"datum":1}}},
{"data":{"name":"reg"},"transform":[{"filter":"datum.p==7 && datum.s=='o'"}],"mark":{"type":"line","stroke":"orange","strokeWidth":1.2,"clip":true},"encoding":{}},
{"data":{"name":"reg"},"transform":[{"filter":"datum.p==7 && datum.s=='od'"}],"mark":{"type":"line","stroke":"orange","strokeWidth":1.2,"strokeDash":[6,5],"clip":true},"encoding":{}},
{"data":{"name":"reg"},"transform":[{"filter":"datum.p==7 && datum.s=='g'"}],"mark":{"type":"line","stroke":"green","strokeWidth":1.2,"clip":true},"encoding":{}},
{"data":{"name":"sr"},"mark":{"type":"line","stroke":"red","strokeWidth":1.2,"clip":true},"encoding":{}},
{"data":{"name":"vlq"},"transform":[{"filter":"!datum.e"}],"mark":{"type":"line","stroke":"red","strokeWidth":1.2,"strokeDash":[6,5],"clip":true},"encoding":{"x":{"field":"f","type":"quantitative","scale":{"domain":[0.6,5],"nice":false,"zero":false},"axis":{"orient":"top","values":[1,1.5,2,2.5,3,3.5,4,4.5,5],"labels":false,"title":null}},"y":{"field":"g","type":"quantitative","scale":{"domain":[1,5],"nice":false,"zero":false},"axis":{"orient":"right","values":[1,1.5,2,2.5,3,3.5,4,4.5,5],"labels":false,"title":null}}}},
{"data":{"name":"lbl"},"mark":{"type":"text","fill":"red","font":"Liberation Serif","fontSize":13,"angle":42,"align":"center","baseline":"middle"},"encoding":{"text":{"field":"t"}}},
{"data":{"name":"ann"},"transform":[{"filter":"datum.p==7"}],"mark":{"type":"text","font":"Liberation Serif","fontSize":21,"fontStyle":"italic","align":"left","baseline":"middle","fill":"black"},"encoding":{"text":{"field":"t"}}},
{"data":{"name":"ann"},"transform":[{"filter":"datum.p==7"}],"mark":{"type":"text","font":"Liberation Serif","fontSize":21,"align":"left","baseline":"middle","fill":"black","dx":17},"encoding":{"text":{"field":"v"}}}
]},
{"width":292,"height":199,"encoding":{"x":{"field":"f","type":"quantitative","scale":{"domain":[0.6,5],"nice":false,"zero":false},"axis":null},"y":{"field":"g","type":"quantitative","scale":{"domain":[1,5],"nice":false,"zero":false},"axis":null}},"resolve":{"axis":{"x":"independent","y":"independent"}},"layer":[
{"data":{"name":"full"},"transform":[{"filter":"datum.p==8"}],"mark":{"type":"area","fill":"orange","fillOpacity":0.15},"encoding":{"y2":{"datum":1}}},
{"data":{"name":"reg"},"transform":[{"filter":"datum.p==8 && (datum.s=='o'||datum.s=='od'||datum.s=='ox')"}],"mark":{"type":"area","fill":"orange","fillOpacity":0.15,"clip":true},"encoding":{"y2":{"datum":1}}},
{"data":{"name":"reg"},"transform":[{"filter":"datum.p==8 && (datum.s=='g'||datum.s=='gx')"}],"mark":{"type":"area","fill":"green","fillOpacity":0.15,"clip":true},"encoding":{"y2":{"datum":1}}},
{"data":{"name":"reg"},"transform":[{"filter":"datum.p==8 && datum.s=='w'"}],"mark":{"type":"area","fill":"green","fillOpacity":0.15,"stroke":"green","strokeWidth":1,"clip":true},"encoding":{"y2":{"field":"g2"}}},
{"data":{"name":"vlq"},"mark":{"type":"area","fill":"red","fillOpacity":0.2,"clip":true},"encoding":{"x":{"field":"f","type":"quantitative","scale":{"domain":[0.6,5],"nice":false,"zero":false},"axis":{"orient":"bottom","values":[1,1.5,2,2.5,3,3.5,4,4.5,5],"format":".1f","title":"f [TeV]"}},"y":{"field":"g","type":"quantitative","scale":{"domain":[1,5],"nice":false,"zero":false},"axis":{"orient":"left","values":[1,1.5,2,2.5,3,3.5,4,4.5,5],"format":".1f","title":"gᵨ"}},"y2":{"datum":1}}},
{"data":{"name":"sr"},"mark":{"type":"area","fill":"red","fillOpacity":0.2,"clip":true},"encoding":{"y2":{"datum":1}}},
{"data":{"name":"reg"},"transform":[{"filter":"datum.p==8 && datum.s=='o'"}],"mark":{"type":"line","stroke":"orange","strokeWidth":1.2,"clip":true},"encoding":{}},
{"data":{"name":"reg"},"transform":[{"filter":"datum.p==8 && datum.s=='od'"}],"mark":{"type":"line","stroke":"orange","strokeWidth":1.2,"strokeDash":[6,5],"clip":true},"encoding":{}},
{"data":{"name":"reg"},"transform":[{"filter":"datum.p==8 && datum.s=='g'"}],"mark":{"type":"line","stroke":"green","strokeWidth":1.2,"clip":true},"encoding":{}},
{"data":{"name":"sr"},"mark":{"type":"line","stroke":"red","strokeWidth":1.2,"clip":true},"encoding":{}},
{"data":{"name":"vlq"},"transform":[{"filter":"!datum.e"}],"mark":{"type":"line","stroke":"red","strokeWidth":1.2,"strokeDash":[6,5],"clip":true},"encoding":{"x":{"field":"f","type":"quantitative","scale":{"domain":[0.6,5],"nice":false,"zero":false},"axis":{"orient":"top","values":[1,1.5,2,2.5,3,3.5,4,4.5,5],"labels":false,"title":null}},"y":{"field":"g","type":"quantitative","scale":{"domain":[1,5],"nice":false,"zero":false},"axis":{"orient":"right","values":[1,1.5,2,2.5,3,3.5,4,4.5,5],"labels":false,"title":null}}}},
{"data":{"name":"lbl"},"mark":{"type":"text","fill":"red","font":"Liberation Serif","fontSize":13,"angle":42,"align":"center","baseline":"middle"},"encoding":{"text":{"field":"t"}}},
{"data":{"name":"ann"},"transform":[{"filter":"datum.p==8"}],"mark":{"type":"text","font":"Liberation Serif","fontSize":21,"fontStyle":"italic","align":"left","baseline":"middle","fill":"black"},"encoding":{"text":{"field":"t"}}},
{"data":{"name":"ann"},"transform":[{"filter":"datum.p==8"}],"mark":{"type":"text","font":"Liberation Serif","fontSize":21,"align":"left","baseline":"middle","fill":"black","dx":17},"encoding":{"text":{"field":"v"}}}
]},
{"width":292,"height":199,"encoding":{"x":{"field":"f","type":"quantitative","scale":{"domain":[0.6,5],"nice":false,"zero":false},"axis":null},"y":{"field":"g","type":"quantitative","scale":{"domain":[1,5],"nice":false,"zero":false},"axis":null}},"resolve":{"axis":{"x":"independent","y":"independent"}},"layer":[
{"data":{"name":"full"},"transform":[{"filter":"datum.p==9"}],"mark":{"type":"area","fill":"orange","fillOpacity":0.15},"encoding":{"y2":{"datum":1}}},
{"data":{"name":"reg"},"transform":[{"filter":"datum.p==9 && (datum.s=='o'||datum.s=='od'||datum.s=='ox')"}],"mark":{"type":"area","fill":"orange","fillOpacity":0.15,"clip":true},"encoding":{"y2":{"datum":1}}},
{"data":{"name":"reg"},"transform":[{"filter":"datum.p==9 && (datum.s=='g'||datum.s=='gx')"}],"mark":{"type":"area","fill":"green","fillOpacity":0.15,"clip":true},"encoding":{"y2":{"datum":1}}},
{"data":{"name":"reg"},"transform":[{"filter":"datum.p==9 && datum.s=='w'"}],"mark":{"type":"area","fill":"green","fillOpacity":0.15,"stroke":"green","strokeWidth":1,"clip":true},"encoding":{"y2":{"field":"g2"}}},
{"data":{"name":"vlq"},"mark":{"type":"area","fill":"red","fillOpacity":0.2,"clip":true},"encoding":{"x":{"field":"f","type":"quantitative","scale":{"domain":[0.6,5],"nice":false,"zero":false},"axis":{"orient":"bottom","values":[1,1.5,2,2.5,3,3.5,4,4.5,5],"format":".1f","title":"f [TeV]"}},"y":{"field":"g","type":"quantitative","scale":{"domain":[1,5],"nice":false,"zero":false},"axis":{"orient":"left","values":[1,1.5,2,2.5,3,3.5,4,4.5,5],"format":".1f","title":"gᵨ"}},"y2":{"datum":1}}},
{"data":{"name":"sr"},"mark":{"type":"area","fill":"red","fillOpacity":0.2,"clip":true},"encoding":{"y2":{"datum":1}}},
{"data":{"name":"reg"},"transform":[{"filter":"datum.p==9 && datum.s=='o'"}],"mark":{"type":"line","stroke":"orange","strokeWidth":1.2,"clip":true},"encoding":{}},
{"data":{"name":"reg"},"transform":[{"filter":"datum.p==9 && datum.s=='od'"}],"mark":{"type":"line","stroke":"orange","strokeWidth":1.2,"strokeDash":[6,5],"clip":true},"encoding":{}},
{"data":{"name":"reg"},"transform":[{"filter":"datum.p==9 && datum.s=='g'"}],"mark":{"type":"line","stroke":"green","strokeWidth":1.2,"clip":true},"encoding":{}},
{"data":{"name":"sr"},"mark":{"type":"line","stroke":"red","strokeWidth":1.2,"clip":true},"encoding":{}},
{"data":{"name":"vlq"},"transform":[{"filter":"!datum.e"}],"mark":{"type":"line","stroke":"red","strokeWidth":1.2,"strokeDash":[6,5],"clip":true},"encoding":{"x":{"field":"f","type":"quantitative","scale":{"domain":[0.6,5],"nice":false,"zero":false},"axis":{"orient":"top","values":[1,1.5,2,2.5,3,3.5,4,4.5,5],"labels":false,"title":null}},"y":{"field":"g","type":"quantitative","scale":{"domain":[1,5],"nice":false,"zero":false},"axis":{"orient":"right","values":[1,1.5,2,2.5,3,3.5,4,4.5,5],"labels":false,"title":null}}}},
{"data":{"name":"lbl"},"mark":{"type":"text","fill":"red","font":"Liberation Serif","fontSize":13,"angle":42,"align":"center","baseline":"middle"},"encoding":{"text":{"field":"t"}}},
{"data":{"name":"ann"},"transform":[{"filter":"datum.p==9"}],"mark":{"type":"text","font":"Liberation Serif","fontSize":21,"fontStyle":"italic","align":"left","baseline":"middle","fill":"black"},"encoding":{"text":{"field":"t"}}},
{"data":{"name":"ann"},"transform":[{"filter":"datum.p==9"}],"mark":{"type":"text","font":"Liberation Serif","fontSize":21,"align":"left","baseline":"middle","fill":"black","dx":17},"encoding":{"text":{"field":"v"}}}
]}
],
"config":{
"view":{"stroke":"black","strokeWidth":1},
"axis":{"zindex":1,"grid":false,"tickSize":-5,"tickColor":"black","tickWidth":1,"domainColor":"black","domainWidth":1,"labelFont":"Liberation Serif","labelFontSize":18,"labelColor":"black","labelFlush":false,"labelOverlap":false,"titleFont":"Liberation Serif","titleFontSize":22,"titleFontWeight":"normal","titleColor":"black"},
"axisX":{"labelPadding":11,"titlePadding":10},
"axisY":{"labelPadding":10,"titlePadding":18}
}
}
